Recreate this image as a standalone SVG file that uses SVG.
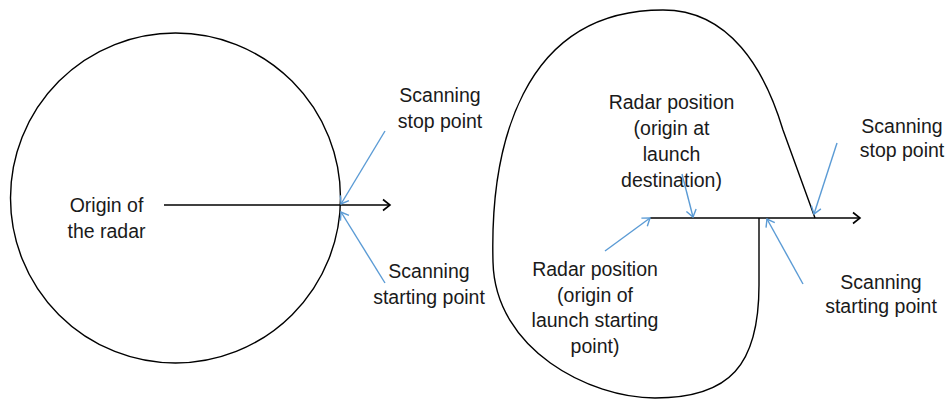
<svg xmlns="http://www.w3.org/2000/svg" width="950" height="399" viewBox="0 0 950 399">
<style>
.t{font-family:"Liberation Sans","Noto Sans",sans-serif;font-size:19.5px;fill:#1a1a1a;text-anchor:middle}
.shape{fill:none;stroke:#000;stroke-width:1.4}
.axis{fill:none;stroke:#000;stroke-width:1.6}
.ptr{fill:none;stroke:#5b9bd5;stroke-width:1.4}
</style>
<defs>
<marker id="ab" markerUnits="userSpaceOnUse" markerWidth="14" markerHeight="14" refX="10" refY="7" orient="auto">
<path d="M3,1.5 L10,7 L3,12.5" fill="none" stroke="#000" stroke-width="1.6"/>
</marker>
<marker id="au" markerUnits="userSpaceOnUse" markerWidth="14" markerHeight="14" refX="10" refY="7" orient="auto">
<path d="M3,2 L10,7 L3,12" fill="none" stroke="#5b9bd5" stroke-width="1.4"/>
</marker>
</defs>
<g id="circle-range">
<circle class="shape" cx="175.5" cy="198" r="165"/>
</g>
<g id="blob-range">
<path class="shape" d="M759,218 L759,285 C759,365 730,398 655,398 C590,398 495,350 493,262 C490,150 520,10 663,10 C730,10 765,70 783,130 L815,218"/>
</g>
<g id="label-origin">
<text class="t" x="106.5" y="212">Origin of</text>
<text class="t" x="106.5" y="238">the radar</text>
</g>
<g id="label-stop-left">
<text class="t" x="440" y="102">Scanning</text>
<text class="t" x="440" y="128">stop point</text>
</g>
<g id="label-start-left">
<text class="t" x="429" y="278">Scanning</text>
<text class="t" x="429" y="304">starting point</text>
</g>
<g id="label-dest">
<text class="t" x="671.5" y="109">Radar position</text>
<text class="t" x="671.5" y="135">(origin at</text>
<text class="t" x="671.5" y="161">launch</text>
<text class="t" x="671.5" y="187">destination)</text>
</g>
<g id="label-launch">
<text class="t" x="595" y="276">Radar position</text>
<text class="t" x="595" y="302">(origin of</text>
<text class="t" x="595" y="327">launch starting</text>
<text class="t" x="595" y="353">point)</text>
</g>
<g id="label-stop-right">
<text class="t" x="902" y="133">Scanning</text>
<text class="t" x="902" y="157">stop point</text>
</g>
<g id="label-start-right">
<text class="t" x="881" y="289">Scanning</text>
<text class="t" x="881" y="313">starting point</text>
</g>
<g id="connectors">
<line class="axis" x1="164" y1="205" x2="390" y2="205" marker-end="url(#ab)"/>
<line class="axis" x1="650" y1="218" x2="860" y2="218" marker-end="url(#ab)"/>
<line class="ptr" x1="385" y1="131" x2="341" y2="204" marker-end="url(#au)"/>
<line class="ptr" x1="385" y1="283" x2="341" y2="212" marker-end="url(#au)"/>
<line class="ptr" x1="682" y1="174" x2="693" y2="217" marker-end="url(#au)"/>
<line class="ptr" x1="605" y1="251" x2="650" y2="218" marker-end="url(#au)"/>
<line class="ptr" x1="837" y1="143" x2="814" y2="214" marker-end="url(#au)"/>
<line class="ptr" x1="803" y1="284" x2="767" y2="219" marker-end="url(#au)"/>
</g>
</svg>
